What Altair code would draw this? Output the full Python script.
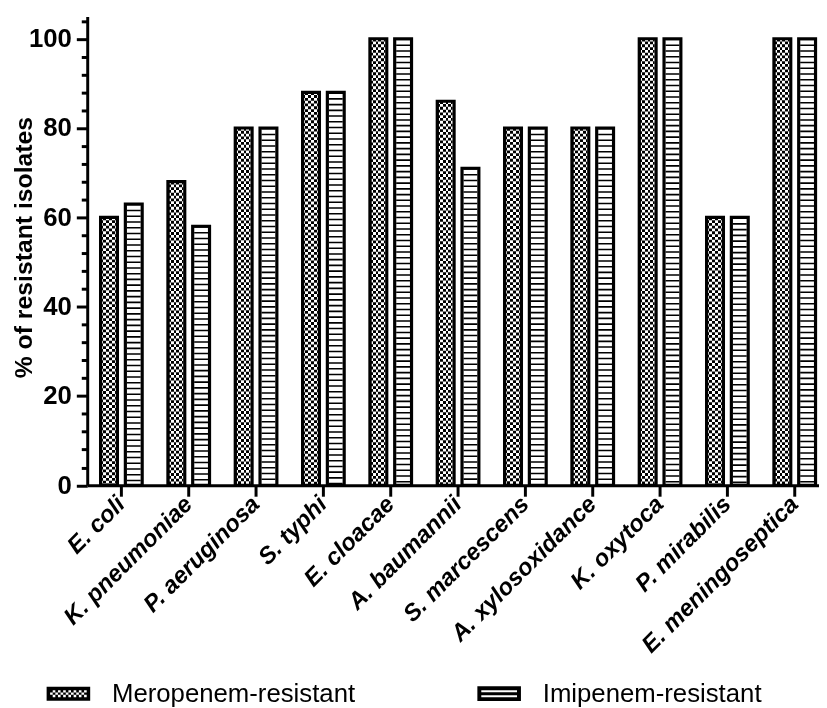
import altair as alt
import pandas as pd

categories = ["E. coli", "K. pneumoniae", "P. aeruginosa", "S. typhi", "E. cloacae",
              "A. baumannii", "S. marcescens", "A. xylosoxidance", "K. oxytoca",
              "P. mirabilis", "E. meningoseptica"]
meropenem = [60, 68, 80, 88, 100, 86, 80, 80, 100, 60, 100]
imipenem = [63, 58, 80, 88, 100, 71, 80, 80, 100, 60, 100]
series_names = ["Meropenem-resistant", "Imipenem-resistant"]
y_ticks = list(range(0, 105, 4))

rows = []
for c, m, i in zip(categories, meropenem, imipenem):
    rows.append({"organism": c, "series": series_names[0], "value": m})
    rows.append({"organism": c, "series": series_names[1], "value": i})
df = pd.DataFrame(rows)

FONT = "Liberation Sans"
PX = 4.51
H = 105 * PX
W = 739


def f(v):
    return f"{v:.4f}"


def rect_cw(x0, y0, x1, y1):
    return f"M{f(x0)},{f(y0)}H{f(x1)}V{f(y1)}H{f(x0)}Z"


def rect_ccw(x0, y0, x1, y1):
    return f"M{f(x0)},{f(y0)}V{f(y1)}H{f(x1)}V{f(y0)}Z"


# legend swatch paths (unit box -1..1)
bw = 0.16
hy = 0.318
path_m = rect_cw(-1, -hy, 1, hy) + rect_ccw(-1 + bw, -hy + bw, 1 - bw, hy - bw)
ncol, nrow = 14, 3
cw = (2 - 2 * bw) / ncol
ch = (2 * hy - 2 * bw) / nrow
for r in range(nrow):
    for c in range(ncol):
        if (r + c) % 2 == 0:
            x0 = -1 + bw + c * cw
            y0 = -hy + bw + r * ch
            path_m += rect_cw(x0, y0, x0 + cw, y0 + ch)

hy2 = 0.34
bw2 = 0.18
mid = 0.07
path_i = (rect_cw(-1, -hy2, 1, hy2)
          + rect_ccw(-1 + bw2, -hy2 + bw2, 1 - bw2, -mid)
          + rect_ccw(-1 + bw2, mid, 1 - bw2, hy2 - bw2))

stops = []
ncols_pat = 6
for k in range(ncols_pat):
    col = "black" if k % 2 == 0 else "white"
    stops.append(alt.GradientStop(offset=k / ncols_pat, color=col))
    stops.append(alt.GradientStop(offset=(k + 1) / ncols_pat, color=col))
stripes = alt.LinearGradient(gradient="linear", stops=stops, x1=0, x2=1, y1=0, y2=0)

x_axis = alt.Axis(title=None, labelAngle=-45, labelAlign="right", labelBaseline="middle",
                  labelFont=FONT, labelFontSize=24, labelFontWeight="bold",
                  labelFontStyle="italic", labelColor="black", labelPadding=4,
                  labelOverlap=False, labelLimit=400, tickSize=11, tickWidth=3,
                  tickColor="black", domainColor="black", domainWidth=3, grid=False)

y_axis = alt.Axis(title="% of resistant isolates", values=y_ticks,
                  labelExpr="datum.value % 20 === 0 ? datum.label : ''",
                  tickSize={"condition": {"test": "datum.value % 20 === 0", "value": 11}, "value": 6},
                  tickWidth=3, tickColor="black", domainColor="black", domainWidth=3,
                  labelFont=FONT, labelFontSize=26, labelFontWeight="bold", labelColor="black",
                  labelPadding=5, titleFont=FONT, titleFontSize=25, titleFontWeight="bold",
                  titleColor="black", titleX=-64, titleY=233, titleBaseline="middle", grid=False)

base = alt.Chart(df).encode(
    x=alt.X("organism:N", sort=categories,
            scale=alt.Scale(domain=categories, range=[0, 749], paddingInner=0.382, paddingOuter=0.1985),
            axis=x_axis),
    xOffset=alt.XOffset("series:N", sort=series_names,
                        scale=alt.Scale(domain=series_names, paddingInner=0.32, paddingOuter=0)),
    y=alt.Y("value:Q", stack=None, scale=alt.Scale(domain=[0, 105], nice=False), axis=y_axis),
)

mero = base.transform_filter(alt.datum.series == series_names[0])
imi = base.transform_filter(alt.datum.series == series_names[1])

m_fill = mero.mark_bar(fill=stripes)
m_rows = mero.mark_rule(stroke="white", strokeWidth=14, strokeDash=[2.83, 2.83],
                        blend="difference").encode(y2=alt.datum(0))
i_fill = imi.mark_bar(fill="white")
i_rows = imi.mark_rule(stroke="black", strokeWidth=14, strokeDash=[1.6, 4.2]).encode(y2=alt.datum(0))
outline = base.mark_bar(fillOpacity=0, stroke="black", strokeWidth=3.2)

legend_layer = base.transform_filter("datum.value < 0").mark_point(filled=True, color="black").encode(
    shape=alt.Shape("series:N", scale=alt.Scale(domain=series_names, range=[path_m, path_i]),
                    legend=alt.Legend(title=None, orient="none", legendX=-41, legendY=662,
                                      direction="horizontal", columns=2, columnPadding=123,
                                      symbolSize=1936, symbolStrokeWidth=0, symbolFillColor="black",
                                      symbolOpacity=1, labelFont=FONT, labelFontSize=26,
                                      labelColor="black", labelOffset=22, padding=0, labelLimit=400))
)

chart = alt.layer(m_fill, m_rows, i_fill, i_rows, outline, legend_layer).properties(
    width=W, height=H,
    padding={"left": 80, "top": 5, "right": 0, "bottom": 226},
    autosize=alt.AutoSizeParams(type="none"),
    background="white",
).configure_view(stroke=None)

chart.save("out.html", embed_options={"renderer": "svg", "actions": False})
